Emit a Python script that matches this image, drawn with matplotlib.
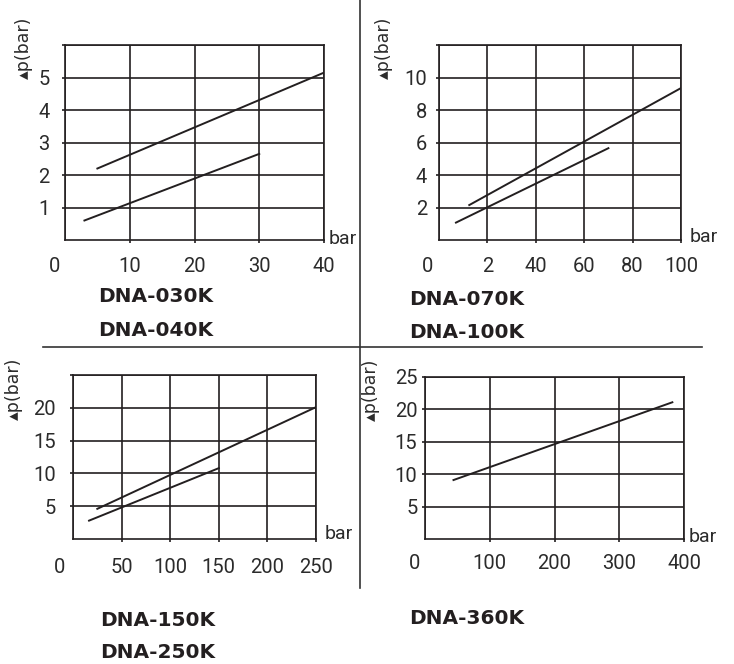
import matplotlib
matplotlib.use("Agg")
import matplotlib.pyplot as plt
from matplotlib.lines import Line2D
from matplotlib.transforms import ScaledTranslation

# ---------------- data ----------------
# Panel 1: DNA-030K / DNA-040K
p1_upper_x = [5, 40]
p1_upper_y = [2.2, 5.15]
p1_lower_x = [3, 30]
p1_lower_y = [0.6, 2.65]
p1_xticks = [0, 10, 20, 30, 40]
p1_xlabels = ["0", "10", "20", "30", "40"]
p1_yticks = [1, 2, 3, 4, 5, 6]
p1_ylabels = ["1", "2", "3", "4", "5", ""]
p1_models = ["DNA-030K", "DNA-040K"]

# Panel 2: DNA-070K / DNA-100K
p2_upper_x = [12.5, 100]
p2_upper_y = [2.15, 9.35]
p2_lower_x = [7, 70]
p2_lower_y = [1.07, 5.65]
p2_xticks = [0, 20, 40, 60, 80, 100]
p2_xlabels = ["0", "2", "40", "60", "80", "100"]
p2_yticks = [2, 4, 6, 8, 10, 12]
p2_ylabels = ["2", "4", "6", "8", "10", ""]
p2_models = ["DNA-070K", "DNA-100K"]

# Panel 3: DNA-150K / DNA-250K
p3_upper_x = [25, 250]
p3_upper_y = [4.6, 20.1]
p3_lower_x = [16.5, 150]
p3_lower_y = [2.8, 10.8]
p3_xticks = [0, 50, 100, 150, 200, 250]
p3_xlabels = ["0", "50", "100", "150", "200", "250"]
p3_yticks = [5, 10, 15, 20, 25]
p3_ylabels = ["5", "10", "15", "20", ""]
p3_models = ["DNA-150K", "DNA-250K"]

# Panel 4: DNA-360K
p4_x = [44, 382]
p4_y = [9.1, 21.1]
p4_xticks = [0, 100, 200, 300, 400]
p4_xlabels = ["0", "100", "200", "300", "400"]
p4_yticks = [5, 10, 15, 20, 25]
p4_ylabels = ["5", "10", "15", "20", "25"]
p4_models = ["DNA-360K"]

y_title = "\u25b4p(bar)"
x_unit = "bar"

# ---------------- style ----------------
W, H = 734, 664
DPI = 100
INK = "#231f20"
TXT = "#2b2b2b"
TICK_FONT = ["Roboto", "DejaVu Sans"]

fig = plt.figure(figsize=(W / DPI, H / DPI), dpi=DPI)


def px_axes(left, top, right, bottom):
    return fig.add_axes([left / W, 1 - bottom / H, (right - left) / W, (bottom - top) / H])


def style_panel(ax, xlim, ylim, xticks, xlabels, yticks, ylabels,
                xpad, ypad, zero_shift, ylab_pos, bar_off):
    ax.set_xlim(*xlim)
    ax.set_ylim(*ylim)
    ax.set_xticks(xticks)
    ax.set_xticklabels(xlabels)
    ax.set_yticks(yticks)
    ax.set_yticklabels(ylabels)
    ax.grid(True, color=INK, linewidth=1.2)
    ax.set_axisbelow(True)
    for s in ax.spines.values():
        s.set_color(INK)
        s.set_linewidth(1.2)
    ax.tick_params(axis="x", direction="out", length=2.5, width=1.2, color=INK,
                   pad=xpad, labelsize=14.5, labelcolor=TXT)
    ax.tick_params(axis="y", direction="out", length=2.5, width=1.2, color=INK,
                   pad=ypad, labelsize=14.5, labelcolor=TXT)
    for lab in ax.get_xticklabels() + ax.get_yticklabels():
        lab.set_family(TICK_FONT)
    # no tick mark at the origin on the x axis; shift the '0' label left
    ax.xaxis.get_major_ticks()[0].tick1line.set_visible(False)
    lab0 = ax.get_xticklabels()[0]
    lab0.set_transform(lab0.get_transform() +
                       ScaledTranslation(-zero_shift / DPI, 0, fig.dpi_scale_trans))
    ax.set_ylabel(y_title, fontsize=12.5, color=TXT, family=["DejaVu Sans"])
    ax.yaxis.set_label_coords(*ylab_pos)
    ax.annotate(x_unit, xy=(1, 0), xycoords="axes fraction",
                xytext=bar_off, textcoords="offset points",
                ha="left", va="baseline", fontsize=14, color=TXT,
                family=TICK_FONT)


def models(names, x, ys):
    for name, y in zip(names, ys):
        fig.text(x / W, 1 - y / H, name, ha="left", va="center",
                 fontsize=14.5, fontweight="bold", color=INK, family="DejaVu Sans")


# Panel 1
ax1 = px_axes(65, 45, 324, 240)
ax1.plot(p1_upper_x, p1_upper_y, color=INK, lw=1.4)
ax1.plot(p1_lower_x, p1_lower_y, color=INK, lw=1.4)
style_panel(ax1, (0, 40), (0, 6), p1_xticks, p1_xlabels, p1_yticks, p1_ylabels,
            xpad=9.5, ypad=8.5, zero_shift=10, ylab_pos=(-0.125, 0.985), bar_off=(3, -3))
models(p1_models, 98, [297, 331])

# Panel 2
ax2 = px_axes(439, 45, 681, 240)
ax2.plot(p2_upper_x, p2_upper_y, color=INK, lw=1.4)
ax2.plot(p2_lower_x, p2_lower_y, color=INK, lw=1.4)
style_panel(ax2, (0, 100), (0, 12), p2_xticks, p2_xlabels, p2_yticks, p2_ylabels,
            xpad=9.5, ypad=6, zero_shift=11, ylab_pos=(-0.19, 0.985), bar_off=(6, -1.5))
models(p2_models, 409, [299, 332])

# Panel 3
ax3 = px_axes(73, 375, 316, 539)
ax3.plot(p3_upper_x, p3_upper_y, color=INK, lw=1.4)
ax3.plot(p3_lower_x, p3_lower_y, color=INK, lw=1.4)
style_panel(ax3, (0, 250), (0, 25), p3_xticks, p3_xlabels, p3_yticks, p3_ylabels,
            xpad=11, ypad=10, zero_shift=13, ylab_pos=(-0.205, 0.915), bar_off=(6, 0))
models(p3_models, 100, [620, 653])

# Panel 4
ax4 = px_axes(425, 377, 684, 539)
ax4.plot(p4_x, p4_y, color=INK, lw=1.4)
style_panel(ax4, (0, 400), (0, 25), p4_xticks, p4_xlabels, p4_yticks, p4_ylabels,
            xpad=8.5, ypad=3, zero_shift=10, ylab_pos=(-0.175, 0.923), bar_off=(3.5, -2.5))
models(p4_models, 409, [618])

# Divider lines
fig.add_artist(Line2D([360 / W, 360 / W], [1.0, 1 - 588 / H],
                      transform=fig.transFigure, color="#333333", lw=1.2))
fig.add_artist(Line2D([43 / W, 702 / W], [1 - 346.5 / H, 1 - 346.5 / H],
                      transform=fig.transFigure, color="#333333", lw=1.2))

fig.savefig("out.png", dpi=DPI, facecolor="white")
